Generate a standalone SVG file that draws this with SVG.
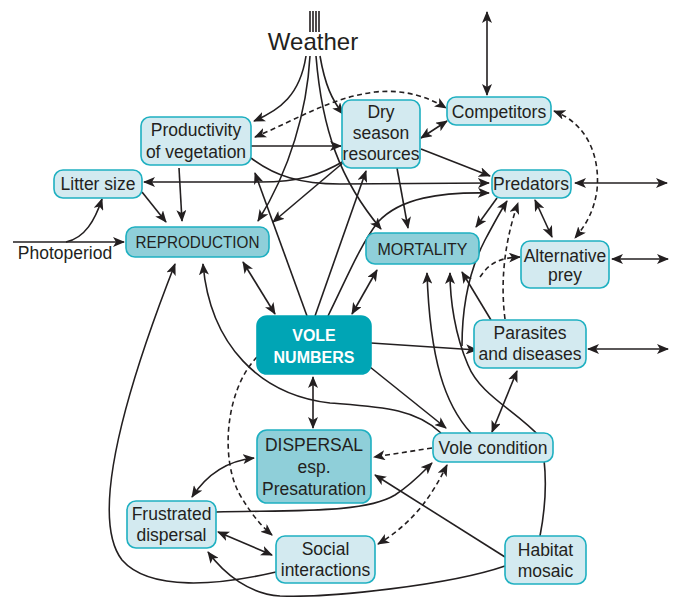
<svg xmlns="http://www.w3.org/2000/svg" width="677" height="597" viewBox="0 0 677 597">
<defs>
<marker id="ah" viewBox="0 0 12 10" refX="11" refY="5" markerWidth="12" markerHeight="10" markerUnits="userSpaceOnUse" orient="auto-start-reverse"><path d="M0,0 L12,5 L0,10 L3,5 z" fill="#231f20"/></marker>
<style>
.c{fill:none;stroke:#231f20;stroke-width:1.6}
.d{stroke-dasharray:5,3.5}
.e{marker-end:url(#ah)}
.s{marker-start:url(#ah)}
.n{fill:#d3eaf0;stroke:#1fb0c1;stroke-width:1.6}
.k{fill:#8fcfd9;stroke:#1fb0c1;stroke-width:1.6}
.v{fill:#00a5b5;stroke:#00a5b5;stroke-width:1.6}
text{font-family:"Liberation Sans",Arial,sans-serif;font-size:17.5px;fill:#231f20;text-anchor:middle}
.u{font-size:16px}
.w{fill:#ffffff;font-weight:bold;font-size:16px}
</style>
</defs>
<rect width="677" height="597" fill="#ffffff"/>
<g id="connectors">
<path class="c" d="M310,11 V32 M313,11 V32 M316,11 V32 M319,11 V32"/>
<path class="c e" d="M306,56 C300,95 280,110 254,121"/>
<path class="c e" d="M310,56 C307,110 290,170 258,221"/>
<path class="c e" d="M316,56 C322,130 340,180 381,229"/>
<path class="c e" d="M320,56 C325,85 332,100 343,114"/>
<path class="c d e s" d="M255,137 C300,118 330,98 375,92 C405,89 428,97 446,108"/>
<path class="c e s" d="M487,12 L487,95"/>
<path class="c e s" d="M421,138 L447,121"/>
<path class="c e" d="M421,149 L490,176"/>
<path class="c e" d="M251,146 L341,146"/>
<path class="c e" d="M251,158 C275,176 300,184 340,184 L489,183"/>
<path class="c e" d="M344,161 C320,175 300,182 260,182 L144,182"/>
<path class="c e s" d="M575,183 L667,183"/>
<path class="c d e s" d="M554,111 C590,125 600,160 597,190 C594,212 585,226 575,238"/>
<path class="c e s" d="M612,259 L668,259"/>
<path class="c e s" d="M588,349 L668,349"/>
<path class="c e s" d="M535,200 L552,237"/>
<path class="c e" d="M497,198 L476,227"/>
<path class="c e" d="M397,168 L408,228"/>
<path class="c e" d="M328,316 C345,282 360,245 378,222 C400,198 440,192 489,193"/>
<path class="c d e" d="M505,319 C500,280 505,240 518,203"/>
<path class="c d e" d="M480,277 C490,262 500,258 520,257"/>
<path class="c e" d="M462,346 C462,300 472,265 485,240 C493,225 500,212 507,201"/>
<path class="c e" d="M142,192 L166,222"/>
<path class="c e" d="M179,168 L182,221"/>
<path class="c e" d="M344,162 L273,222"/>
<path class="c e" d="M13,242 L124,242"/>
<path class="c e" d="M66,242 C85,238 95,220 102,199"/>
<path class="c e" d="M307,316 L255,173"/>
<path class="c e" d="M315,316 L366,171"/>
<path class="c e s" d="M243,262 L275,314"/>
<path class="c e s" d="M352,314 L377,270"/>
<path class="c e" d="M371,343 L477,350"/>
<path class="c e" d="M370,367 L446,428"/>
<path class="c e s" d="M313,377 L313,428"/>
<path class="c e" d="M441,433 C415,408 380,407 330,403 C260,395 210,345 203,264"/>
<path class="c e" d="M276,572 C220,585 150,592 122,560 C95,525 110,430 175,264"/>
<path class="c e s" d="M254,458 Q215,462 192,497"/>
<path class="c e s" d="M218,532 L272,555"/>
<path class="c e" d="M216,512 C300,510 365,513 395,495 C412,484 422,473 432,463"/>
<path class="c d e" d="M432,448 L374,457"/>
<path class="c d e s" d="M447,465 C430,500 410,525 378,544"/>
<path class="c d e" d="M257,357 C225,390 220,460 240,495 C250,512 260,525 272,535"/>
<path class="c e" d="M505,557 L375,475"/>
<path class="c e" d="M505,566 C450,585 330,598 280,596 C250,594 225,575 208,552"/>
<path class="c e" d="M540,536 C546,505 548,470 540,437 C515,410 480,395 468,365 C455,335 450,300 450,273"/>
<path class="c e" d="M471,433 C445,405 430,360 427,273"/>
<path class="c e" d="M491,320 L462,272"/>
<path class="c e s" d="M492,432 L517,371"/>
</g>
<g id="weather"><text x="313" y="50" style="font-size:24px">Weather</text></g>
<g id="photoperiod"><text x="65" y="259">Photoperiod</text></g>
<g id="productivity"><rect class="n" x="141" y="117" width="110" height="48" rx="9"/><text x="196" y="136">Productivity</text><text x="196" y="158">of vegetation</text></g>
<g id="dry-season"><rect class="n" x="342" y="100" width="78" height="68" rx="9"/><text x="381" y="118">Dry</text><text x="381" y="139">season</text><text x="381" y="160">resources</text></g>
<g id="competitors"><rect class="n" x="447" y="97" width="104" height="28" rx="9"/><text x="499" y="118">Competitors</text></g>
<g id="litter-size"><rect class="n" x="54" y="170" width="88" height="28" rx="9"/><text x="98" y="190">Litter size</text></g>
<g id="predators"><rect class="n" x="492" y="170" width="79" height="28" rx="9"/><text x="531" y="190">Predators</text></g>
<g id="reproduction"><rect class="k" x="126" y="227" width="143" height="30" rx="9"/><text class="u" x="197.5" y="248" textLength="124" lengthAdjust="spacingAndGlyphs">REPRODUCTION</text></g>
<g id="mortality"><rect class="k" x="366" y="233" width="113" height="31" rx="9"/><text class="u" x="422.5" y="255">MORTALITY</text></g>
<g id="alternative-prey"><rect class="n" x="521" y="241" width="88" height="47" rx="9"/><text x="565" y="262">Alternative</text><text x="565" y="281">prey</text></g>
<g id="vole-numbers"><rect class="v" x="257" y="316" width="114" height="58" rx="10"/><text class="w" x="314" y="341">VOLE</text><text class="w" x="314" y="363">NUMBERS</text></g>
<g id="parasites"><rect class="n" x="474" y="320" width="112" height="48" rx="9"/><text x="530" y="339">Parasites</text><text x="530" y="360">and diseases</text></g>
<g id="dispersal"><rect class="k" x="257" y="430" width="114" height="73" rx="10"/><text x="314" y="451">DISPERSAL</text><text x="314" y="473">esp.</text><text x="314" y="495">Presaturation</text></g>
<g id="vole-condition"><rect class="n" x="433" y="433" width="120" height="29" rx="9"/><text x="493" y="454">Vole condition</text></g>
<g id="frustrated-dispersal"><rect class="n" x="127" y="501" width="89" height="47" rx="9"/><text x="171.5" y="520">Frustrated</text><text x="171.5" y="541">dispersal</text></g>
<g id="social-interactions"><rect class="n" x="276" y="536" width="99" height="47" rx="9"/><text x="325.5" y="555">Social</text><text x="325.5" y="576">interactions</text></g>
<g id="habitat-mosaic"><rect class="n" x="505" y="536" width="81" height="48" rx="9"/><text x="545.5" y="556">Habitat</text><text x="545.5" y="577">mosaic</text></g>
</svg>
